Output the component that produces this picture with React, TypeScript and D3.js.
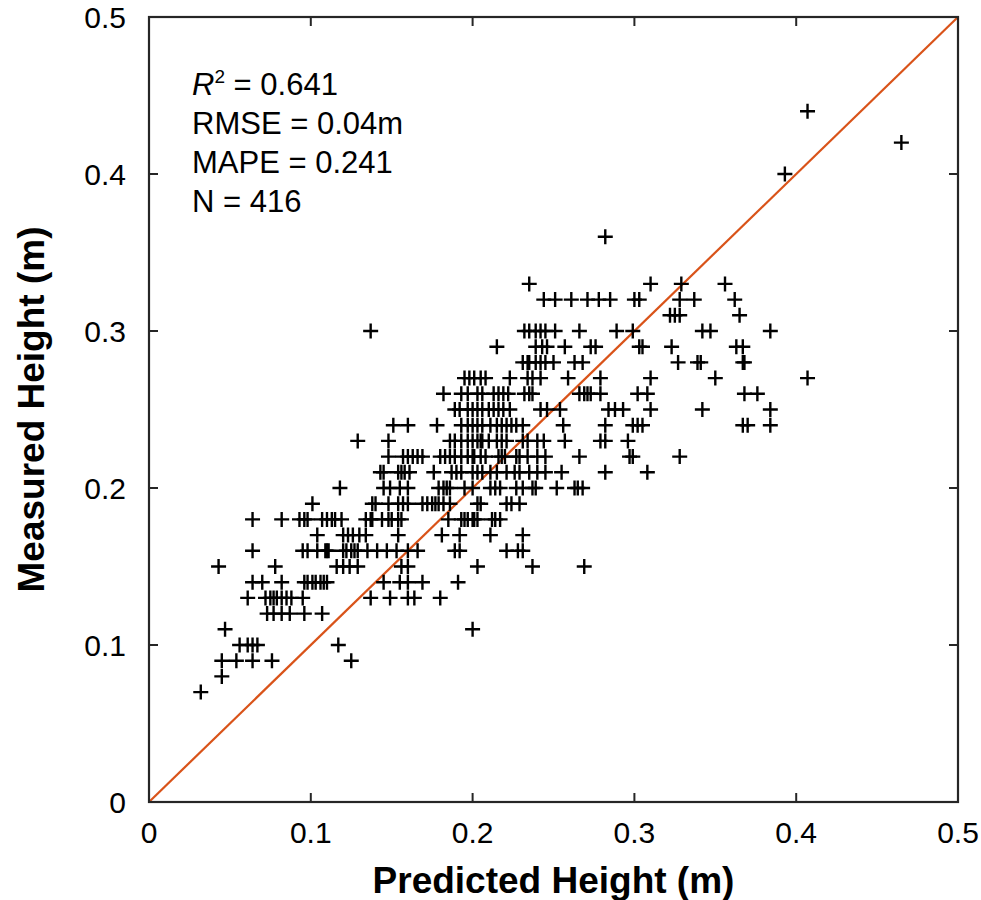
import React, { useEffect, useRef } from "react";
import * as d3 from "d3";

// Measured height levels (m) and the predicted heights observed at each level
const measuredLevels = [
  0.07, 0.08, 0.09, 0.1, 0.11, 0.12, 0.13, 0.14, 0.15, 0.16, 0.17, 0.18, 0.19, 0.2,
  0.21, 0.22, 0.23, 0.24, 0.25, 0.26, 0.27, 0.28, 0.29, 0.3, 0.31, 0.32, 0.33, 0.36,
  0.4, 0.42, 0.44,
];

const p07 = [0.032];
const p08 = [0.045];
const p09 = [0.045, 0.054, 0.064, 0.076, 0.125];
const p10 = [0.056, 0.061, 0.064, 0.067, 0.117];
const p11 = [0.047, 0.2];
const p12 = [0.073, 0.077, 0.082, 0.087, 0.096, 0.107];
const p13 = [0.061, 0.072, 0.075, 0.077, 0.079, 0.082, 0.085, 0.088, 0.095, 0.137, 0.149, 0.16, 0.164, 0.18];
const p14 = [0.064, 0.07, 0.082, 0.096, 0.098, 0.101, 0.103, 0.106, 0.108, 0.11, 0.145, 0.155, 0.16, 0.169, 0.191];
const p15 = [0.043, 0.078, 0.116, 0.12, 0.124, 0.129, 0.156, 0.16, 0.203, 0.237, 0.269];
const p16 = [0.064, 0.095, 0.098, 0.104, 0.109, 0.11, 0.111, 0.12, 0.122, 0.125, 0.127, 0.129, 0.135, 0.141, 0.147, 0.153, 0.16, 0.166, 0.189, 0.192, 0.221, 0.228, 0.231];
const p17 = [0.104, 0.12, 0.123, 0.126, 0.13, 0.134, 0.154, 0.181, 0.192, 0.211, 0.231];
const p18 = [0.064, 0.082, 0.093, 0.096, 0.098, 0.107, 0.11, 0.113, 0.115, 0.119, 0.134, 0.137, 0.138, 0.144, 0.148, 0.15, 0.154, 0.156, 0.185, 0.193, 0.195, 0.197, 0.2, 0.201, 0.203, 0.212, 0.214, 0.217];
const p19 = [0.101, 0.138, 0.14, 0.148, 0.154, 0.157, 0.16, 0.169, 0.172, 0.175, 0.177, 0.179, 0.182, 0.186, 0.203, 0.205, 0.221, 0.224, 0.229];
const p20 = [0.118, 0.145, 0.149, 0.155, 0.16, 0.179, 0.182, 0.184, 0.186, 0.195, 0.2, 0.211, 0.214, 0.217, 0.227, 0.231, 0.237, 0.239, 0.252, 0.263, 0.265, 0.268];
const p21 = [0.143, 0.145, 0.154, 0.156, 0.158, 0.161, 0.176, 0.187, 0.19, 0.193, 0.2, 0.203, 0.206, 0.211, 0.215, 0.221, 0.226, 0.229, 0.235, 0.24, 0.245, 0.255, 0.282, 0.308];
const p22 = [0.148, 0.157, 0.16, 0.163, 0.166, 0.169, 0.18, 0.183, 0.186, 0.189, 0.193, 0.197, 0.2, 0.201, 0.205, 0.208, 0.216, 0.218, 0.22, 0.227, 0.229, 0.234, 0.24, 0.245, 0.266, 0.297, 0.299, 0.328];
const p23 = [0.129, 0.148, 0.186, 0.189, 0.193, 0.197, 0.2, 0.203, 0.205, 0.206, 0.21, 0.215, 0.218, 0.221, 0.231, 0.234, 0.24, 0.244, 0.257, 0.279, 0.282, 0.296];
const p24 = [0.151, 0.16, 0.178, 0.193, 0.197, 0.2, 0.203, 0.206, 0.211, 0.215, 0.218, 0.221, 0.224, 0.227, 0.231, 0.256, 0.282, 0.299, 0.302, 0.305, 0.367, 0.37, 0.384];
const p25 = [0.189, 0.192, 0.197, 0.2, 0.203, 0.206, 0.21, 0.213, 0.216, 0.219, 0.223, 0.242, 0.246, 0.254, 0.284, 0.288, 0.293, 0.31, 0.342, 0.384];
const p26 = [0.182, 0.193, 0.197, 0.203, 0.206, 0.213, 0.216, 0.219, 0.222, 0.232, 0.235, 0.237, 0.266, 0.269, 0.271, 0.273, 0.279, 0.302, 0.308, 0.368, 0.376];
const p27 = [0.195, 0.198, 0.201, 0.205, 0.208, 0.223, 0.234, 0.237, 0.242, 0.259, 0.279, 0.31, 0.35, 0.407];
const p28 = [0.231, 0.234, 0.235, 0.239, 0.242, 0.245, 0.25, 0.263, 0.268, 0.327, 0.339, 0.341, 0.367, 0.368];
const p29 = [0.215, 0.239, 0.243, 0.246, 0.257, 0.273, 0.276, 0.303, 0.305, 0.323, 0.363, 0.367];
const p30 = [0.137, 0.232, 0.235, 0.239, 0.242, 0.245, 0.251, 0.266, 0.289, 0.299, 0.342, 0.347, 0.384];
const p31 = [0.322, 0.325, 0.328, 0.365];
const p32 = [0.244, 0.251, 0.261, 0.271, 0.278, 0.285, 0.3, 0.303, 0.328, 0.337, 0.362];
const p33 = [0.235, 0.31, 0.329, 0.356];
const p36 = [0.282];
const p40 = [0.393];
const p42 = [0.465];
const p44 = [0.407];

const predictedRows = [
  p07, p08, p09, p10, p11, p12, p13, p14, p15, p16, p17, p18, p19, p20, p21, p22,
  p23, p24, p25, p26, p27, p28, p29, p30, p31, p32, p33, p36, p40, p42, p44,
];

const tickValues = [0, 0.1, 0.2, 0.3, 0.4, 0.5];
const tickLabels = ["0", "0.1", "0.2", "0.3", "0.4", "0.5"];
const statLabels = [" = 0.641", "RMSE = 0.04m", "MAPE = 0.241", "N = 416"];

const W = 981;
const H = 900;
const M = { left: 149, right: 958, top: 17, bottom: 802 };
const FONT = "'Liberation Sans', Arial, Helvetica, sans-serif";

export default function App() {
  const ref = useRef<SVGSVGElement>(null);

  useEffect(() => {
    const svg = d3.select(ref.current);
    svg.selectAll("*").remove();

    const x = d3.scaleLinear().domain([0, 0.5]).range([M.left, M.right]);
    const y = d3.scaleLinear().domain([0, 0.5]).range([M.bottom, M.top]);

    const points: { p: number; m: number }[] = [];
    measuredLevels.forEach((m, i) => predictedRows[i].forEach((p) => points.push({ p, m })));

    // 1:1 line
    svg
      .append("line")
      .attr("x1", x(0))
      .attr("y1", y(0))
      .attr("x2", x(0.5))
      .attr("y2", y(0.5))
      .attr("stroke", "#D95319")
      .attr("stroke-width", 2.2);

    // markers
    const s = 7.5;
    const g = svg.append("g").attr("stroke", "#000").attr("stroke-width", 2.4).attr("fill", "none");
    g.selectAll("path")
      .data(points)
      .join("path")
      .attr("d", (d) => {
        const cx = x(d.p);
        const cy = y(d.m);
        return `M${cx - s},${cy}H${cx + s}M${cx},${cy - s}V${cy + s}`;
      });

    // box
    const axisColor = "#262626";
    svg
      .append("rect")
      .attr("x", M.left)
      .attr("y", M.top)
      .attr("width", M.right - M.left)
      .attr("height", M.bottom - M.top)
      .attr("fill", "none")
      .attr("stroke", axisColor)
      .attr("stroke-width", 2.2);

    const tl = 9;
    const ticks = svg.append("g").attr("stroke", axisColor).attr("stroke-width", 2);
    tickValues.forEach((v) => {
      ticks.append("line").attr("x1", x(v)).attr("x2", x(v)).attr("y1", M.bottom).attr("y2", M.bottom - tl);
      ticks.append("line").attr("x1", x(v)).attr("x2", x(v)).attr("y1", M.top).attr("y2", M.top + tl);
      ticks.append("line").attr("y1", y(v)).attr("y2", y(v)).attr("x1", M.left).attr("x2", M.left + tl);
      ticks.append("line").attr("y1", y(v)).attr("y2", y(v)).attr("x1", M.right).attr("x2", M.right - tl);
    });

    const labels = svg.append("g").attr("font-family", FONT).attr("font-size", 30).attr("fill", "#000");
    tickValues.forEach((v, i) => {
      labels
        .append("text")
        .attr("x", x(v))
        .attr("y", M.bottom + 41)
        .attr("text-anchor", "middle")
        .text(tickLabels[i]);
      labels
        .append("text")
        .attr("x", M.left - 23)
        .attr("y", y(v) + 11)
        .attr("text-anchor", "end")
        .text(tickLabels[i]);
    });

    // axis titles
    svg
      .append("text")
      .attr("x", (M.left + M.right) / 2)
      .attr("y", 893)
      .attr("text-anchor", "middle")
      .attr("font-family", FONT)
      .attr("font-weight", "bold")
      .attr("font-size", 37)
      .text("Predicted Height (m)");
    svg
      .append("text")
      .attr("transform", `translate(44,${(M.top + M.bottom) / 2}) rotate(-90)`)
      .attr("text-anchor", "middle")
      .attr("font-family", FONT)
      .attr("font-weight", "bold")
      .attr("font-size", 37)
      .text("Measured Height (m)");

    // stats
    const st = svg.append("g").attr("font-family", FONT).attr("font-size", 31).attr("fill", "#000");
    const baseY = [95, 134, 173, 212];
    const r2 = st.append("text").attr("x", 192).attr("y", baseY[0]);
    r2.append("tspan").attr("font-style", "italic").text("R");
    r2.append("tspan").attr("font-size", 19).attr("dy", -12).text("2");
    r2.append("tspan").attr("dy", 12).text(statLabels[0]);
    for (let i = 1; i < 4; i++) {
      st.append("text").attr("x", 192).attr("y", baseY[i]).text(statLabels[i]);
    }
  }, []);

  return (
    <svg
      ref={ref}
      width={W}
      height={H}
      style={{ position: "absolute", left: 0, top: 0, background: "#fff" }}
    />
  );
}
